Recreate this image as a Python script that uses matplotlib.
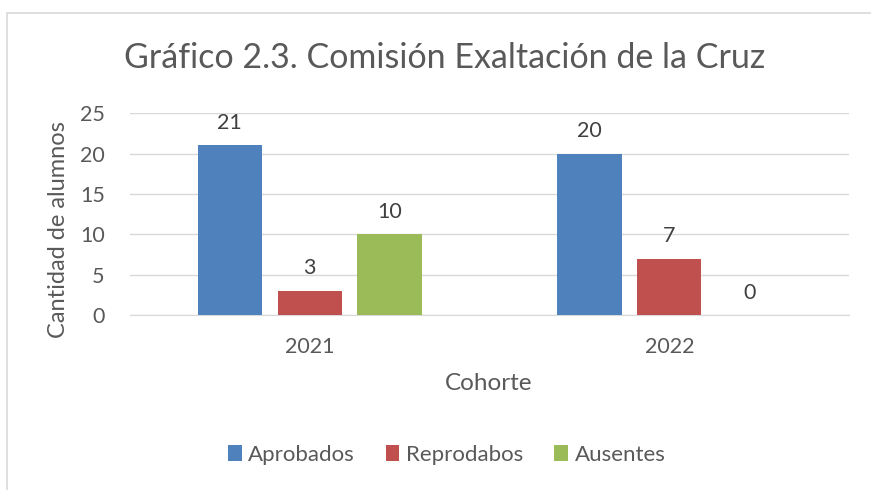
import numpy as np
import matplotlib.pyplot as plt
from matplotlib.patches import Rectangle

plt.rcParams['font.family'] = ['Lato', 'DejaVu Sans']

cohorts = ['2021', '2022']
series = ['Aprobados', 'Reprodabos', 'Ausentes']
aprobados = [21, 20]
reprobados = [3, 7]
ausentes = [10, 0]
colors = ['#4F81BD', '#C0504D', '#9BBB59']
text_col = '#595959'

fig = plt.figure(figsize=(8.71, 4.9), dpi=100)
ax = fig.add_axes([0.149, 0.357, 0.826, 0.412])

x = np.arange(len(cohorts))
step, width = 0.222, 0.178
for k, (name, vals) in enumerate(zip(series, [aprobados, reprobados, ausentes])):
    xs = x + (k - 1) * step
    ax.bar(xs, vals, width=width, color=colors[k], label=name, zorder=3)
    for xi, v in zip(xs, vals):
        ax.annotate(str(v), (xi, v), xytext=(0, 9), textcoords='offset points',
                    ha='center', va='bottom', fontsize=15.5, color='#404040')

ax.set_xlim(-0.5, 1.5)
ax.set_ylim(0, 25)
ax.set_yticks(range(0, 26, 5))
ax.set_xticks(x)
ax.set_xticklabels(cohorts)
ax.grid(True, axis='y', color='#D9D9D9', linewidth=1, zorder=0)
for s in ['top', 'right', 'left']:
    ax.spines[s].set_visible(False)
ax.spines['bottom'].set_color('#D9D9D9')
ax.tick_params(axis='both', length=0, labelsize=15.5, colors=text_col)
ax.tick_params(axis='y', pad=18)
ax.tick_params(axis='x', pad=16)

fig.text(0.51, 0.882, 'Gráfico 2.3. Comisión Exaltación de la Cruz',
         ha='center', va='center', fontsize=24.5, color=text_col)
fig.text(0.067, 0.531, 'Cantidad de alumnos', rotation=90, ha='center',
         va='center', fontsize=17, color=text_col)
fig.text(0.561, 0.218, 'Cohorte', ha='center', va='center', fontsize=17.5,
         color=text_col)

fig.legend(loc='center', bbox_to_anchor=(0.513, 0.072), ncol=3, frameon=False,
           fontsize=16, handlelength=0.6, handleheight=0.75, handletextpad=0.3,
           columnspacing=1.4, labelcolor=text_col)

fig.patches.append(Rectangle((0.008, -0.1), 1.2, 1.073, transform=fig.transFigure,
                             fill=False, edgecolor='#D9D9D9', linewidth=1.2))

fig.savefig('out.png', dpi=100)
